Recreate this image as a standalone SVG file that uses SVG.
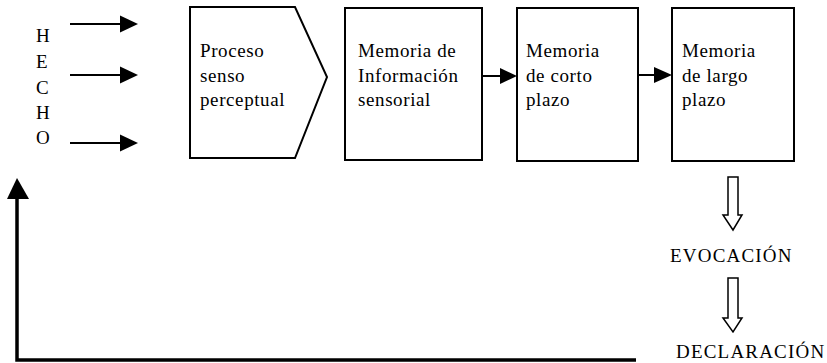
<svg xmlns="http://www.w3.org/2000/svg" width="827" height="363" viewBox="0 0 827 363">
<style>
text{font-family:"Liberation Serif","Times New Roman",serif;fill:#000}
.t{font-size:19px;letter-spacing:0.6px}
.c{font-size:19px;letter-spacing:1.2px}
.box{fill:#fff;stroke:#000;stroke-width:2}
.ln{stroke:#000;stroke-width:2;fill:none}
.hd{fill:#000}
.hol{fill:#fff;stroke:#000;stroke-width:1.5;stroke-linejoin:miter}
</style>
<rect width="827" height="363" fill="#fff"/>
<g id="hecho">
<text class="c" x="36" y="42">H</text>
<text class="c" x="36" y="68">E</text>
<text class="c" x="36" y="94">C</text>
<text class="c" x="36" y="119">H</text>
<text class="c" x="36" y="144">O</text>
</g>
<g id="proceso">
<polygon class="box" points="190,7 295,7 327,77 295,158 190,158"/>
<text class="t" x="200" y="57">Proceso</text>
<text class="t" x="200" y="82">senso</text>
<text class="t" x="200" y="106">perceptual</text>
</g>
<g id="sensorial">
<rect class="box" x="345" y="8" width="137" height="152"/>
<text class="t" x="358" y="57">Memoria de</text>
<text class="t" x="358" y="82">Información</text>
<text class="t" x="358" y="106">sensorial</text>
</g>
<g id="corto">
<rect class="box" x="517" y="8" width="121" height="153"/>
<text class="t" x="526" y="57">Memoria</text>
<text class="t" x="526" y="82">de corto</text>
<text class="t" x="526" y="106">plazo</text>
</g>
<g id="largo">
<rect class="box" x="672" y="8" width="122" height="153"/>
<text class="t" x="682" y="57">Memoria</text>
<text class="t" x="682" y="82">de largo</text>
<text class="t" x="682" y="106">plazo</text>
</g>
<g id="evocacion">
<text class="c" x="670" y="262">EVOCACIÓN</text>
</g>
<g id="declaracion">
<text class="c" x="676" y="358">DECLARACIÓN</text>
</g>
<g id="connectors">
<line class="ln" x1="70" y1="24" x2="121" y2="24"/>
<polygon class="hd" points="120,15.5 138,24 120,32.5"/>
<line class="ln" x1="70" y1="75" x2="121" y2="75"/>
<polygon class="hd" points="120,66.5 138,75 120,83.5"/>
<line class="ln" x1="70" y1="143" x2="121" y2="143"/>
<polygon class="hd" points="120,134.5 138,143 120,151.5"/>
<line class="ln" x1="482" y1="76" x2="501" y2="76"/>
<polygon class="hd" points="500,68 517,76 500,84"/>
<line class="ln" x1="638" y1="75" x2="655" y2="75"/>
<polygon class="hd" points="654,67 672,75 654,83"/>
<polygon class="hol" points="728,177 738,177 738,215 742,215 733,230 723,215 728,215"/>
<polygon class="hol" points="728,278 738,278 738,318 742,318 733,332 723,318 728,318"/>
<polyline points="636,360 17,360 17,198" fill="none" stroke="#000" stroke-width="3.5"/>
<polygon class="hd" points="7,199 17,178 29,199"/>
</g>
</svg>
